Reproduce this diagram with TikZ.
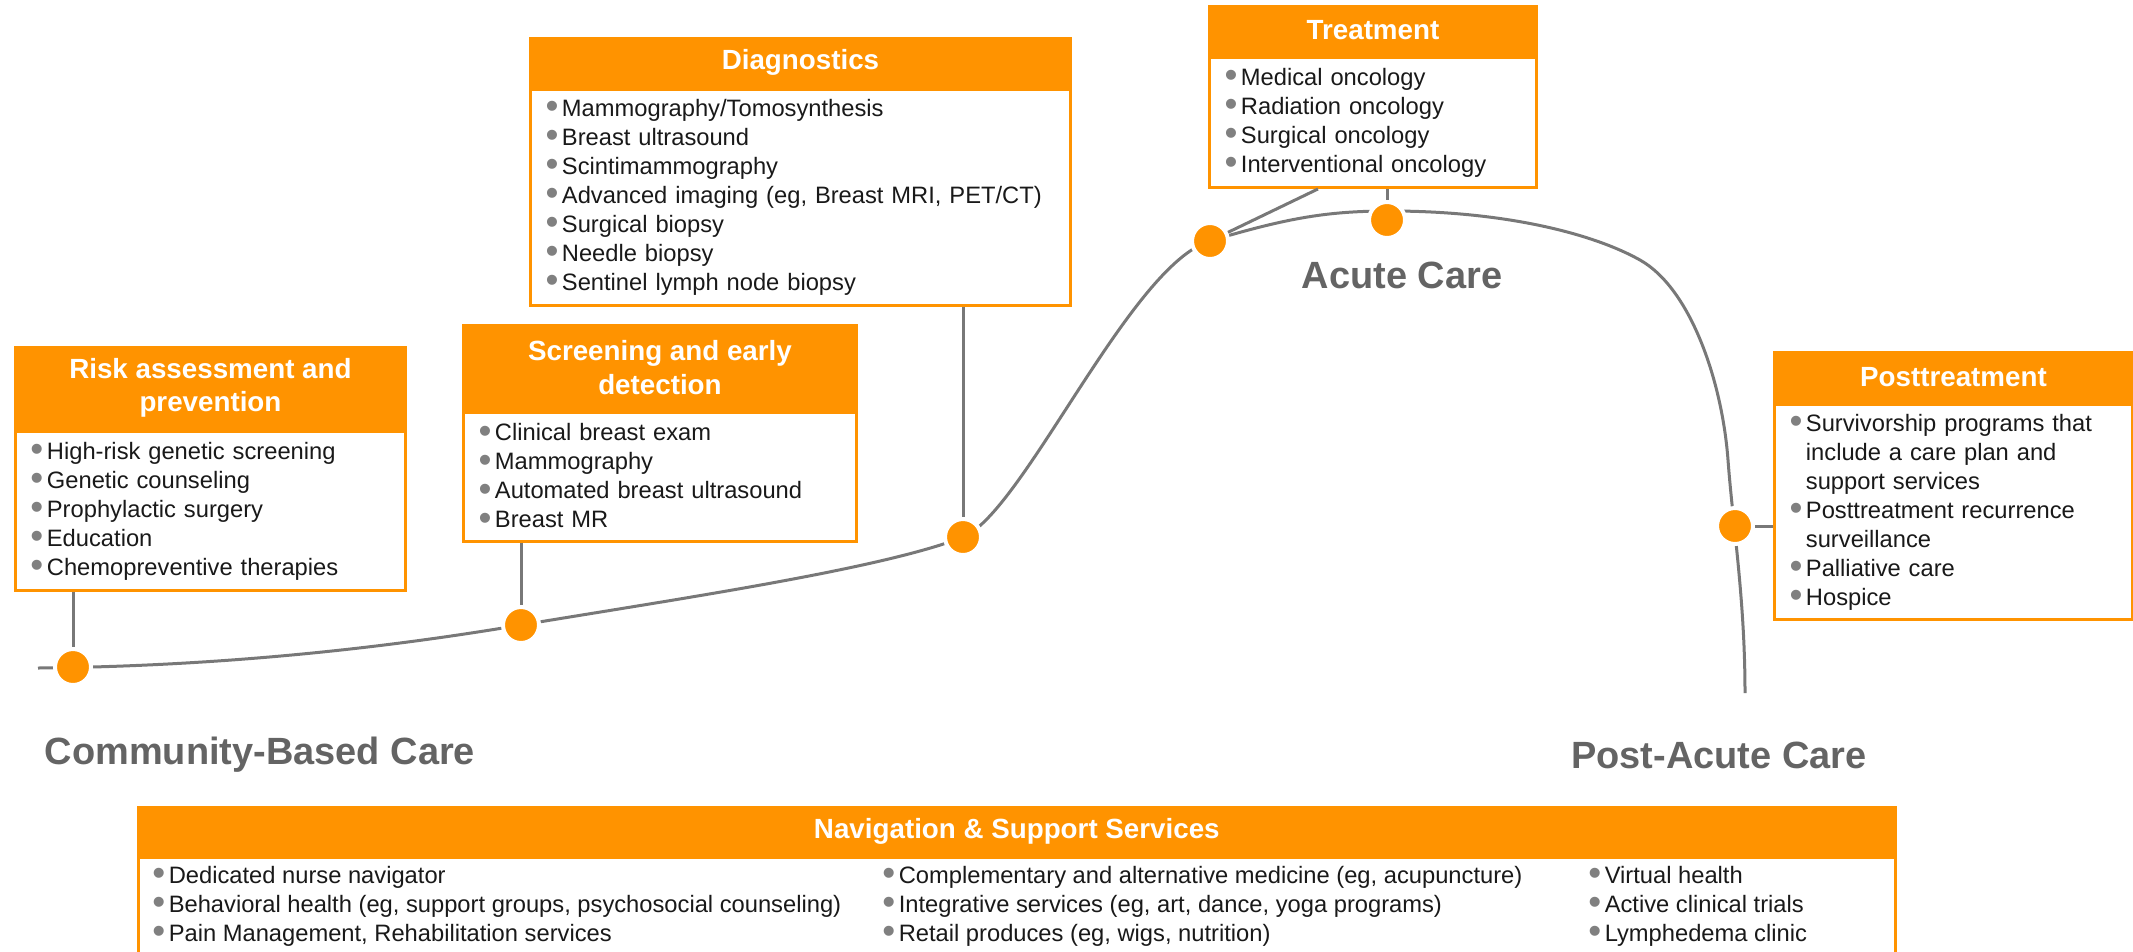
\documentclass[tikz,border=0pt]{standalone}
\usepackage{fontspec}
\setmainfont{Liberation Sans}
\usepackage{tikz}
\usetikzlibrary{positioning}
\definecolor{ora}{RGB}{255,147,0}
\definecolor{lin}{RGB}{120,120,120}
\definecolor{bgray}{RGB}{128,128,128}
\definecolor{lblgray}{RGB}{100,100,100}
\definecolor{txt}{RGB}{25,25,25}
\newcommand{\bul}{{\fontsize{21pt}{0pt}\selectfont\raisebox{-0.06em}{\textcolor{bgray}{\textbullet}}}\hspace{2pt}}

\begin{document}
\begin{tikzpicture}[x=0.02cm,y=-0.02cm,every node/.style={inner sep=0pt,text=txt},
  hd/.style={fill=ora,draw=ora,line width=0.06cm,text=white,align=center,font=\fontsize{15.8pt}{19pt}\selectfont\bfseries},
  lst/.style={align=left,font=\fontsize{13.5pt}{16.5pt}\selectfont},
  bx/.style={lst,draw=ora,line width=0.06cm,fill=white,inner xsep=0.3cm},
  hub/.style={circle,fill=ora,draw=white,line width=0.08cm,minimum size=0.72cm},
  lk/.style={draw=lin,line width=0.06cm},
  big/.style={text=lblgray,font=\fontsize{21.6pt}{24pt}\selectfont\bfseries}]
  \useasboundingbox (0,0) rectangle (2133,951);
  \clip (0,0) rectangle (2133,951);
  \draw[lk] (38,668) .. controls (250,666) and (420,642) .. (521,625)
    .. controls (671,600) and (883,569) .. (963,537)
    .. controls (1023,513) and (1130,265) .. (1210,241)
    .. controls (1290,217) and (1330,211) .. (1390,211)
    .. controls (1500,211) and (1590,232) .. (1640,260)
    .. controls (1690,288) and (1722,380) .. (1728,460)
    .. controls (1733,527) and (1745,600) .. (1745,693);
  \node[hub] (d1) at (73,667){};
  \node[hub] (d2) at (521,625){};
  \node[hub] (d3) at (963,537){};
  \node[hub] (d4) at (1210,241){};
  \node[hub] (d5) at (1387,220){};
  \node[hub] (d6) at (1735,526){};
  \node[hd,minimum width=7.8cm,minimum height=1.62cm,anchor=north west] (riskh) at (14,346){Risk assessment and\\prevention};
  \node[bx,text width=7.2cm,minimum height=3.18cm,below=0pt of riskh] (riskb){\bul High-risk genetic screening\\\bul Genetic counseling\\\bul Prophylactic surgery\\\bul Education\\\bul Chemopreventive therapies};
  \node[hd,minimum width=7.86cm,minimum height=1.68cm,anchor=north west] (scrh) at (462,324){Screening and early\\detection};
  \node[bx,text width=7.26cm,minimum height=2.58cm,below=0pt of scrh] (scrb){\bul Clinical breast exam\\\bul Mammography\\\bul Automated breast ultrasound\\\bul Breast MR};
  \node[hd,minimum width=10.8cm,minimum height=0.96cm,anchor=north west] (diah) at (529,37){Diagnostics};
  \node[bx,text width=10.2cm,minimum height=4.32cm,below=0pt of diah] (diab){\bul Mammography/Tomosynthesis\\\bul Breast ultrasound\\\bul Scintimammography\\\bul Advanced imaging (eg, Breast MRI, PET/CT)\\\bul Surgical biopsy\\\bul Needle biopsy\\\bul Sentinel lymph node biopsy};
  \node[hd,minimum width=6.54cm,minimum height=0.96cm,anchor=north west] (trth) at (1208,5){Treatment};
  \node[bx,text width=5.94cm,minimum height=2.6cm,below=0pt of trth] (trtb){\bul Medical oncology\\\bul Radiation oncology\\\bul Surgical oncology\\\bul Interventional oncology};
  \node[hd,minimum width=7.16cm,minimum height=0.98cm,anchor=north west] (posth) at (1773,351){Posttreatment};
  \node[bx,text width=6.56cm,minimum height=4.3cm,below=0pt of posth] (postb){\bul Survivorship programs that\\\phantom{\bul}include a care plan and\\\phantom{\bul}support services\\\bul Posttreatment recurrence\\\phantom{\bul}surveillance\\\bul Palliative care\\\bul Hospice};
  \node[hd,minimum width=35.14cm,minimum height=0.94cm,anchor=north west] (navh) at (137,806){Navigation \& Support Services};
  \node[bx,minimum width=35.14cm,minimum height=2.12cm,below=0pt of navh] (navb){};
  \node[lst,anchor=west] (nav1) at (152,906){\bul Dedicated nurse navigator\\\bul Behavioral health (eg, support groups, psychosocial counseling)\\\bul Pain Management, Rehabilitation services};
  \node[lst,anchor=west] (nav2) at (882,906){\bul Complementary and alternative medicine (eg, acupuncture)\\\bul Integrative services (eg, art, dance, yoga programs)\\\bul Retail produces (eg, wigs, nutrition)};
  \node[lst,anchor=west] (nav3) at (1588,906){\bul Virtual health\\\bul Active clinical trials\\\bul Lymphedema clinic};
  \node[big] (cbc) at (260,755){Community-Based Care};
  \node[big] (ac) at (1402,275){Acute Care};
  \node[big] (pac) at (1719,755){Post-Acute Care};
  \draw[lk](d1|-riskb.south)--(d1);
  \draw[lk](d2|-scrb.south)--(d2);
  \draw[lk](d3|-diab.south)--(d3);
  \draw[lk]([xshift=2.2cm]trtb.south west)--(d4);
  \draw[lk](d5|-trtb.south)--(d5);
  \draw[lk](d6)--(d6-|postb.west);
\end{tikzpicture}
\end{document}
